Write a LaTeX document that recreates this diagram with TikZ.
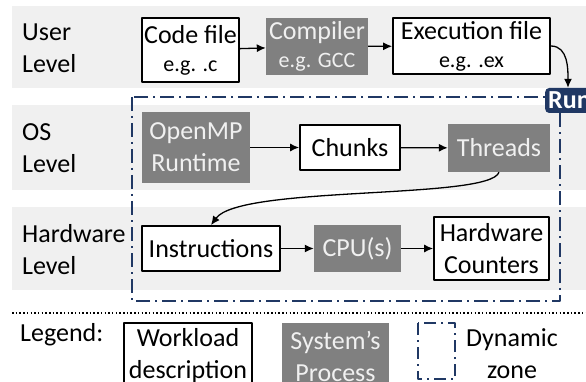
\documentclass[tikz,border=0pt]{standalone}
\usepackage{fontspec}
\setmainfont{Carlito}
\usetikzlibrary{arrows.meta}
\definecolor{bandgray}{RGB}{240,240,240}
\definecolor{procgray}{RGB}{128,128,128}
\definecolor{zonenavy}{RGB}{32,56,100}
\newcommand{\subtxt}{\fontsize{22}{26}\selectfont}
\tikzset{
  wbox/.style={draw, line width=1.7pt, fill=white, inner sep=0pt, align=center},
  pbox/.style={fill=procgray, text=white!94!black, inner sep=0pt, align=center},
  lvl/.style={anchor=west, align=left, inner sep=0pt},
  zone/.style={draw=zonenavy, line width=1.8pt, dash pattern=on 14pt off 5pt on 2pt off 5pt},
  flow/.style={-{Latex[length=9pt,width=8pt]}, line width=1.3pt},
}
\begin{document}
\begin{tikzpicture}[x=1pt, y=-1pt, font=\fontsize{26}{32}\selectfont, line join=round]
\useasboundingbox (0,0) rectangle (586,382);
% level bands
\fill[bandgray] (12,6) rectangle (586,88);
\fill[bandgray] (12,105) rectangle (586,190);
\fill[bandgray] (12,207) rectangle (586,290);
\node[lvl] (userlbl) at (22,48) {User\\Level};
\node[lvl] (oslbl) at (22,148) {OS\\Level};
\node[lvl] (hwlbl) at (22,250) {Hardware\\Level};
% dynamic zone
\draw[zone] (132,97) rectangle (560,301);
\node[fill=zonenavy, text=white, rounded corners=4pt, font=\fontsize{26}{30}\selectfont\bfseries, anchor=west,
  minimum height=25pt, inner xsep=3pt, inner ysep=0pt] (run) at (545,100.5) {Run};
% user level
\node[wbox, minimum width=97pt, minimum height=64pt] (code) at (190.5,50) {Code file\\[-4pt]{\subtxt e.g. .c}};
\node[pbox, minimum width=102pt, minimum height=57pt] (comp) at (317,46.5) {Compiler\\[-4pt]{\subtxt e.g. GCC}};
\node[wbox, minimum width=157pt, minimum height=56pt] (exec) at (471.5,46) {Execution file\\[-4pt]{\subtxt e.g. .ex}};
% os level
\node[pbox, minimum width=108pt, minimum height=71pt] (omp) at (196,147.5) {OpenMP\\Runtime};
\node[wbox, minimum width=100pt, minimum height=45pt] (chunks) at (350,147.5) {Chunks};
\node[pbox, minimum width=102pt, minimum height=48pt] (threads) at (499,148) {Threads};
% hardware level
\node[wbox, minimum width=138pt, minimum height=45pt] (instr) at (211,248.5) {Instructions};
\node[pbox, minimum width=87pt, minimum height=47pt] (cpu) at (357.5,248.5) {CPU(s)};
\node[wbox, minimum width=115pt, minimum height=63pt] (hwc) at (491.5,248.5) {Hardware\\Counters};
% connectors
\draw[flow] (code) -- (comp);
\draw[flow] (comp) -- (exec);
\draw[flow] (exec.east) to[out=0, in=90] (run.north -| 568,0);
\draw[flow] (omp) -- (chunks);
\draw[flow] (chunks) -- (threads);
\draw[flow] (threads.south) .. controls (490,200) and (240,185) .. (instr.north);
\draw[flow] (instr) -- (cpu);
\draw[flow] (cpu) -- (hwc);
% legend
\draw[line width=1.5pt, dash pattern=on 1.5pt off 2.2pt] (12,313) -- (586,313);
\node[lvl] (leglbl) at (20,335) {Legend:};
\node[wbox, minimum width=128pt, minimum height=66pt] (legw) at (188,356) {Workload\\description};
\node[pbox, minimum width=107pt, minimum height=66pt] (legp) at (335.5,356) {System’s\\Process};
\draw[zone, dash pattern=on 12pt off 5pt on 2pt off 5pt] (418,323) rectangle (455,379);
\node[align=center, inner sep=0pt] (legz) at (512,354) {Dynamic\\zone};
\end{tikzpicture}
\end{document}
